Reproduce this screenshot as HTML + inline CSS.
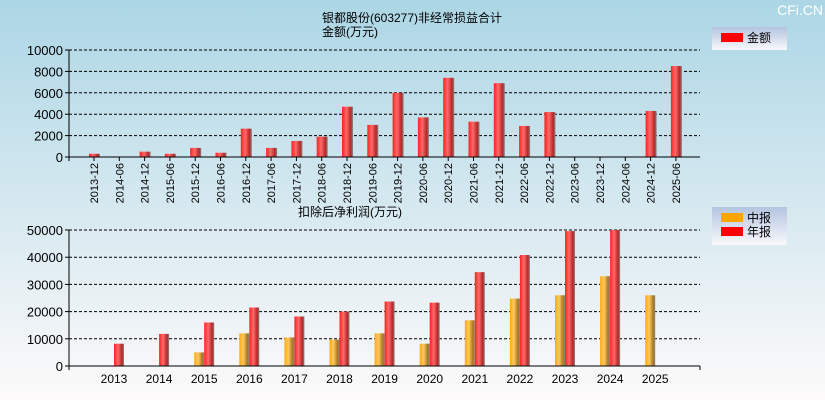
<!DOCTYPE html>
<html><head><meta charset="utf-8"><style>
body{margin:0;width:825px;height:400px;overflow:hidden;font-family:"Liberation Sans","Noto Sans CJK SC",sans-serif}
</style></head><body>
<svg id="c" width="825" height="400" xmlns="http://www.w3.org/2000/svg">
<defs>
<linearGradient id="bg" x1="0" y1="0" x2="0" y2="1"><stop offset="0" stop-color="#acd6e5"/><stop offset="1" stop-color="#fdfafa"/></linearGradient>
<linearGradient id="red" x1="0" y1="0" x2="1" y2="0"><stop offset="0" stop-color="#ff2020"/><stop offset="0.4" stop-color="#ff6a6a"/><stop offset="0.8" stop-color="#b52626"/><stop offset="1" stop-color="#888"/></linearGradient>
<linearGradient id="org" x1="0" y1="0" x2="1" y2="0"><stop offset="0" stop-color="#ffaa10"/><stop offset="0.4" stop-color="#ffc860"/><stop offset="0.8" stop-color="#a87a20"/><stop offset="1" stop-color="#888"/></linearGradient>
<linearGradient id="lg" x1="0" y1="0" x2="0" y2="1"><stop offset="0" stop-color="#b4c4e0"/><stop offset="1" stop-color="#f8f8fb"/></linearGradient>
</defs>
<rect width="825" height="400" fill="url(#bg)"/>
<text x="823" y="15" text-anchor="end" font-size="14" fill="#fff">CFi.CN</text>
<text x="412" y="22" text-anchor="middle" font-size="12">银都股份(603277)非经常损益合计</text>
<text x="350" y="36" text-anchor="middle" font-size="12">金额(万元)</text>
<text x="350" y="216" text-anchor="middle" font-size="12">扣除后净利润(万元)</text>
<g><rect x="712" y="27" width="75" height="23" fill="url(#lg)"/><rect x="721" y="33" width="22" height="9" fill="#f00"/><text x="747" y="42" font-size="12">金额</text></g>
<g><rect x="712" y="207" width="75" height="38" fill="url(#lg)"/><rect x="721" y="213" width="22" height="9" fill="#ffa500"/><text x="747" y="222" font-size="12">中报</text><rect x="721" y="227" width="22" height="9" fill="#f00"/><text x="747" y="236" font-size="12">年报</text></g>
<g id="g1"></g><g id="g2"></g>
</svg>
<script>
const topCats=["2013-12","2014-06","2014-12","2015-06","2015-12","2016-06","2016-12","2017-06","2017-12","2018-06","2018-12","2019-06","2019-12","2020-06","2020-12","2021-06","2021-12","2022-06","2022-12","2023-06","2023-12","2024-06","2024-12","2025-06"];
const topVals=[300,0,500,300,850,400,2650,850,1500,1900,4700,3000,6000,3700,7400,3300,6900,2900,4200,0,0,0,4300,8500];
const topTicks=[0,2000,4000,6000,8000,10000];
const years=["2013","2014","2015","2016","2017","2018","2019","2020","2021","2022","2023","2024","2025"];
const interim=[0,0,5000,12000,10500,9700,12000,8200,16800,24800,26000,33000,26000];
const annual=[8200,11800,16000,21500,18200,20000,23700,23300,34500,40800,49600,50000,0];
const botTicks=[0,10000,20000,30000,40000,50000];
const NS="http://www.w3.org/2000/svg";
function mk(p,t,a){const e=document.createElementNS(NS,t);for(const k in a)e.setAttribute(k,a[k]);p.appendChild(e);return e;}
const L=69,R=700;
// top
const g1=document.getElementById('g1');
const ty=v=>157-v/10000*107, tx=i=>94+i*25.3;
topTicks.forEach(v=>{const y=ty(v);
 if(v>0){const l=mk(g1,'line',{x1:L,x2:R,y1:y,y2:y,stroke:'#000','stroke-dasharray':'3,2'});}
 mk(g1,'line',{x1:L-4,x2:L,y1:y,y2:y,stroke:'#000'});
 const t=mk(g1,'text',{x:L-6,y:y+5,'text-anchor':'end','font-size':13});t.textContent=v;
 });
topVals.forEach((v,i)=>{if(v<=0)return;const r=mk(g1,'rect',{x:tx(i)-5,y:ty(v),width:11,height:157-ty(v),fill:'url(#red)'});
 });
mk(g1,'line',{x1:L,x2:L,y1:50,y2:161,stroke:'#000'});
mk(g1,'line',{x1:L,x2:R,y1:157,y2:157,stroke:'#000'});
topCats.forEach((c,i)=>{const x=tx(i);mk(g1,'line',{x1:x,x2:x,y1:157,y2:161,stroke:'#000'});
 const t=mk(g1,'text',{x:0,y:0,'font-size':11,'text-anchor':'end',transform:`translate(${x+4},163) rotate(-90)`});t.textContent=c;
 });
// bottom
const g2=document.getElementById('g2');
const by=v=>366-v/50000*136, bx=i=>114+i*45.1;
botTicks.forEach(v=>{const y=by(v);
 if(v>0){const l=mk(g2,'line',{x1:L,x2:R,y1:y,y2:y,stroke:'#000','stroke-dasharray':'3,2'});}
 mk(g2,'line',{x1:L-4,x2:L,y1:y,y2:y,stroke:'#000'});
 const t=mk(g2,'text',{x:L-6,y:y+5,'text-anchor':'end','font-size':13});t.textContent=v;
 });
years.forEach((yr,i)=>{const x=bx(i);
 if(interim[i]>0){const r=mk(g2,'rect',{x:x-10,y:by(interim[i]),width:10,height:366-by(interim[i]),fill:'url(#org)'});
  }
 if(annual[i]>0){const r=mk(g2,'rect',{x:x,y:by(annual[i]),width:10,height:366-by(annual[i]),fill:'url(#red)'});
  }
 const t=mk(g2,'text',{x:x,y:383,'text-anchor':'middle','font-size':12});t.textContent=yr;
 });
mk(g2,'line',{x1:L,x2:L,y1:230,y2:370,stroke:'#000'});
mk(g2,'line',{x1:L,x2:R,y1:366,y2:366,stroke:'#000'});
mk(g2,'line',{x1:R,x2:R,y1:366,y2:370,stroke:'#000'});
</script>
</body></html>
